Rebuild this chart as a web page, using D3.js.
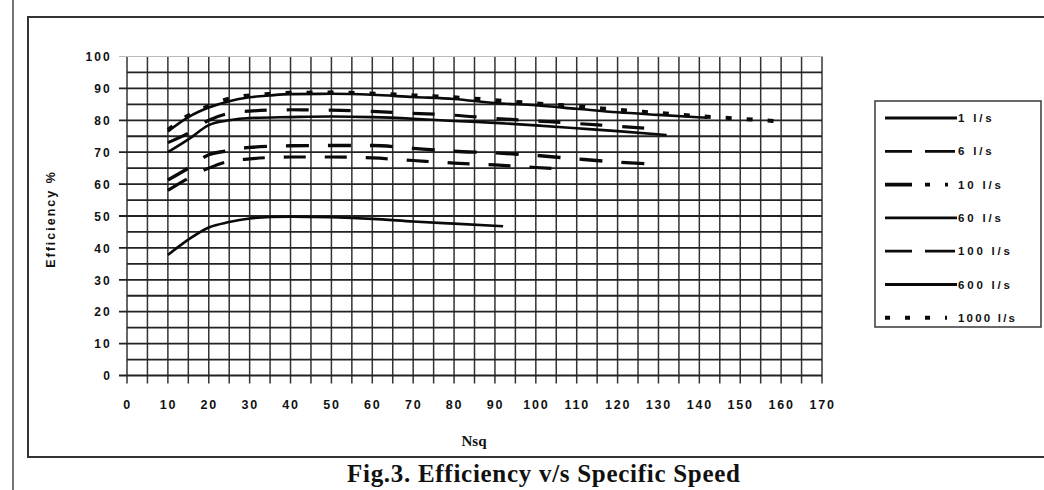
<!DOCTYPE html>
<html>
<head>
<meta charset="utf-8">
<script src="https://cdn.jsdelivr.net/npm/d3@7"></script>
<style>
  body { margin: 0; background: #fff; }
  svg { display: block; }
</style>
</head>
<body>
<div class="chart"></div>
<script>
// values
var series = ["1 l/s", "6 l/s", "10 l/s", "60 l/s", "100 l/s", "600 l/s", "1000 l/s"]

var nsq1 = [10, 15, 20, 25, 30, 35, 40, 50, 60, 70, 80, 92]
var eff1 = [37.8, 42.6, 46.4, 48.1, 49.2, 49.7, 49.8, 49.6, 49.1, 48.3, 47.6, 46.8]

var nsq6 = [10, 15, 20, 25, 30, 40, 50, 60, 70, 80, 90, 100, 108]
var eff6 = [58, 61.8, 65, 67.2, 67.9, 68.5, 68.5, 68.2, 67.4, 66.6, 66.0, 65.2, 64.6]

var nsq10 = [10, 15, 20, 25, 30, 40, 50, 60, 70, 80, 90, 100, 110, 120, 128]
var eff10 = [61.3, 65, 69.2, 70.5, 71.5, 72, 72.1, 72.1, 71.2, 70.3, 69.8, 69, 67.9, 66.9, 66.3]

var nsq60 = [10, 15, 20, 25, 30, 40, 50, 60, 70, 80, 90, 100, 110, 120, 132]
var eff60 = [70, 74, 78.5, 80, 80.7, 81, 81.2, 81, 80.5, 79.8, 79.2, 78.4, 77.5, 76.6, 75.4]

var nsq100 = [10, 15, 20, 25, 30, 40, 50, 60, 70, 80, 90, 100, 110, 120, 128]
var eff100 = [73, 76, 80, 82.2, 82.9, 83.3, 83.2, 82.8, 82.2, 81.6, 80.6, 79.8, 79, 78.1, 77.4]

var nsq600 = [10, 15, 20, 25, 30, 35, 40, 50, 60, 70, 80, 90, 100, 110, 120, 130, 142]
var eff600 = [76.5, 81, 84, 86, 87.2, 87.8, 88.2, 88.3, 88, 87.3, 86.7, 85.4, 84.7, 83.6, 82.5, 81.7, 80.8]

var nsq1000 = [10, 15, 20, 25, 30, 35, 40, 50, 60, 70, 80, 90, 100, 110, 120, 130, 140, 150, 160]
var eff1000 = [77, 81.5, 84.5, 86.8, 87.8, 88.3, 88.6, 88.7, 88.4, 87.8, 87.2, 86.3, 85.3, 84.4, 83.3, 82.3, 81.3, 80.5, 79.6]

var xTicks = [0, 10, 20, 30, 40, 50, 60, 70, 80, 90, 100, 110, 120, 130, 140, 150, 160, 170]
var yTicks = [0, 10, 20, 30, 40, 50, 60, 70, 80, 90, 100]

var xs = [nsq1, nsq6, nsq10, nsq60, nsq100, nsq600, nsq1000]
var ys = [eff1, eff6, eff10, eff60, eff100, eff600, eff1000]

// line looks
var dashes = ["", "22,19", "23,19", "", "22,20", "", "6,15"]
var widths = [2.6, 3.2, 3.4, 2.6, 3.2, 2.6, 4]
var legendDashes = ["", "27,13,30", "27,13,5,15,3,30", "", "27,13,30", "", "5,15,5,15,5,15,2,30"]

var width = 1044, height = 490
var svg = d3.select(".chart").append("svg")
  .attr("width", width)
  .attr("height", height)

var x = d3.scaleLinear().domain([0, 170]).range([127, 822])
var y = d3.scaleLinear().domain([0, 100]).range([375.5, 56.5])

// page edge + figure frame
svg.append("line")
  .attr("x1", 13).attr("x2", 13).attr("y1", 0).attr("y2", height)
  .style("stroke", "#555").style("stroke-width", 1.6)
svg.append("path")
  .attr("d", "M1050,17 L28,17 L28,457 L1050,457")
  .style("fill", "none").style("stroke", "#333").style("stroke-width", 2)

// grid every 5 units
var grid = svg.append("g").attr("class", "grid")
d3.range(0, 171, 5).forEach(function(v) {
  grid.append("line")
    .attr("x1", x(v)).attr("x2", x(v))
    .attr("y1", y(100)).attr("y2", y(0) + 8)
    .style("stroke", "#333").style("stroke-width", 1.5)
})
d3.range(0, 101, 5).forEach(function(v) {
  grid.append("line")
    .attr("x1", x(0) - (v % 10 == 0 ? 8 : 0)).attr("x2", x(170))
    .attr("y1", y(v)).attr("y2", y(v))
    .style("stroke", v == 100 ? "#bbb" : "#222")
    .style("stroke-width", v == 100 ? 1 : 1.8)
})

// axes labels
var xAxis = d3.axisBottom(x).tickValues(xTicks).tickSize(0).tickPadding(0)
var gx = svg.append("g")
  .attr("transform", "translate(0," + (y(0) + 25) + ")")
  .call(xAxis)
gx.select(".domain").remove()
gx.selectAll(".tick text")
  .style("font-family", "Liberation Sans, Arial, sans-serif")
  .style("font-weight", "bold")
  .style("font-size", "12.5px")
  .style("letter-spacing", "1.8px")
  .style("fill", "#111")

var yAxis = d3.axisLeft(y).tickValues(yTicks).tickSize(0).tickPadding(0)
var gy = svg.append("g")
  .attr("transform", "translate(112,0)")
  .call(yAxis)
gy.select(".domain").remove()
gy.selectAll(".tick text")
  .attr("dy", "0.35em")
  .style("font-family", "Liberation Sans, Arial, sans-serif")
  .style("font-weight", "bold")
  .style("font-size", "12px")
  .style("letter-spacing", "2.2px")
  .style("fill", "#111")

svg.append("text")
  .text("Efficiency %")
  .attr("transform", "translate(55,219) rotate(-90)")
  .attr("text-anchor", "middle")
  .style("font-family", "Liberation Sans, Arial, sans-serif")
  .style("font-weight", "bold")
  .style("font-size", "12.5px")
  .style("letter-spacing", "2px")
  .style("fill", "#111")

svg.append("text")
  .text("Nsq")
  .attr("x", 474).attr("y", 446)
  .attr("text-anchor", "middle")
  .style("font-family", "Liberation Serif, serif")
  .style("font-weight", "bold")
  .style("font-size", "15px")
  .style("fill", "#111")

svg.append("text")
  .text("Fig.3. Efficiency v/s Specific Speed")
  .attr("x", 347).attr("y", 482)
  .attr("textLength", 393)
  .attr("lengthAdjust", "spacing")
  .style("font-family", "Liberation Serif, serif")
  .style("font-weight", "bold")
  .style("font-size", "25px")
  .style("fill", "#111")

// curves
var line = d3.line()
  .x(function(d) { return x(d[0]) })
  .y(function(d) { return y(d[1]) })
  .curve(d3.curveMonotoneX)

series.forEach(function(name, i) {
  var pts = xs[i].map(function(v, j) { return [v, ys[i][j]] })
  svg.append("path")
    .datum(pts)
    .attr("d", line)
    .attr("class", "curve")
    .style("fill", "none")
    .style("stroke", "#0a0a0a")
    .style("stroke-width", widths[i])
    .style("stroke-dasharray", dashes[i])
})

// legend
var legend = svg.append("g").attr("class", "legend")
legend.append("rect")
  .attr("x", 875).attr("y", 101).attr("width", 166).attr("height", 226)
  .style("fill", "#fff").style("stroke", "#444").style("stroke-width", 1.6)
series.forEach(function(name, i) {
  var ly = 118 + i * 33.3
  legend.append("line")
    .attr("x1", 885).attr("x2", 957).attr("y1", ly).attr("y2", ly)
    .style("stroke", "#0a0a0a")
    .style("stroke-width", i == 6 ? 4 : (i == 2 ? 3.6 : 2.8))
    .style("stroke-dasharray", legendDashes[i])
  legend.append("text")
    .text(name)
    .attr("x", 958).attr("y", ly).attr("dy", "0.35em")
    .style("font-family", "Liberation Sans, Arial, sans-serif")
    .style("font-weight", "bold")
    .style("font-size", "11.5px")
    .style("letter-spacing", i == 6 ? "2.2px" : "2.8px")
    .style("fill", "#111")
})
</script>
</body>
</html>
